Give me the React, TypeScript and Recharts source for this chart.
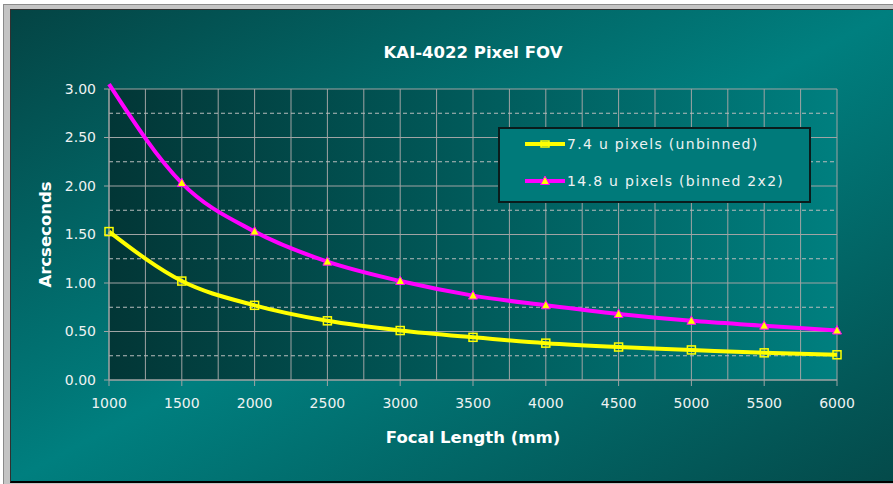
import React from 'react';
import {
  LineChart,
  Line,
  XAxis,
  YAxis,
  CartesianGrid,
  ReferenceLine,
  Legend,
  Label
} from 'recharts';

// focal lengths (mm)
const focalLengths = [1000, 1500, 2000, 2500, 3000, 3500, 4000, 4500, 5000, 5500, 6000];
// arcseconds per pixel
const unbinned = [1.53, 1.02, 0.77, 0.61, 0.51, 0.44, 0.38, 0.34, 0.31, 0.28, 0.26];
const binned = [3.05, 2.03, 1.53, 1.22, 1.02, 0.87, 0.77, 0.68, 0.61, 0.56, 0.51];

const xTicks = [1000, 1500, 2000, 2500, 3000, 3500, 4000, 4500, 5000, 5500, 6000];
const xMinor = [1250, 1750, 2250, 2750, 3250, 3750, 4250, 4750, 5250, 5750];
const yTicks = [0, 0.5, 1, 1.5, 2, 2.5, 3];
const yMinor = [0.25, 0.75, 1.25, 1.75, 2.25, 2.75];
const legendOrder = ['unbinned', 'binned'];

const data = focalLengths.map((f, i) => ({ f, unbinned: unbinned[i], binned: binned[i] }));

const FONT = '"DejaVu Sans", Verdana, sans-serif';
const GRID = '#a0a4a4';
const TEXT = '#eef2f2';

const SquareDot = (props: any) => {
  const { cx, cy } = props;
  if (cx == null || cy == null) return null;
  return <rect x={cx - 4} y={cy - 4} width={8} height={8} fill="none" stroke="#ffff00" strokeWidth={1.5} />;
};

const TriangleDot = (props: any) => {
  const { cx, cy } = props;
  if (cx == null || cy == null) return null;
  return (
    <polygon
      points={`${cx},${cy - 5} ${cx - 4.5},${cy + 3.5} ${cx + 4.5},${cy + 3.5}`}
      fill="#ffff00"
      stroke="#ff00ff"
      strokeWidth={1}
    />
  );
};

const renderLegend = ({ payload }: any) => {
  const items = [...(payload || [])].sort(
    (a: any, b: any) => legendOrder.indexOf(a.dataKey) - legendOrder.indexOf(b.dataKey)
  );
  return (
    <div
      style={{
        position: 'relative',
        width: 313,
        height: 76,
        boxSizing: 'border-box',
        border: '2px solid #0a1c1c',
        background: '#007a7a'
      }}
    >
      {items.map((entry: any, i: number) => (
        <div
          key={`leg-${i}`}
          style={{ position: 'absolute', left: 25, top: 7 + i * 37.4, height: 16, display: 'flex', alignItems: 'center' }}
        >
          <svg width={42} height={16}>
            <line x1={0} y1={8} x2={40} y2={8} stroke={entry.color} strokeWidth={4} />
            {entry.dataKey === 'unbinned' ? (
              <rect x={16} y={5} width={8} height={6} fill="none" stroke="#ffff00" strokeWidth={1.5} />
            ) : (
              <polygon points="20,3 15.5,11.5 24.5,11.5" fill="#ffff00" stroke="#ff00ff" strokeWidth={1} />
            )}
          </svg>
          <span style={{ color: TEXT, fontSize: 14, letterSpacing: 1.3, fontFamily: FONT, whiteSpace: 'nowrap' }}>
            {entry.value}
          </span>
        </div>
      ))}
    </div>
  );
};

export default function App() {
  return (
    <div style={{ position: 'absolute', left: 0, top: 0, width: 893, height: 484, background: '#ffffff', overflow: 'hidden' }}>
      <style>{`.recharts-line g, .recharts-line path { clip-path: none !important; }`}</style>
      <div
        style={{
          position: 'absolute',
          left: 3,
          top: 4,
          width: 900,
          height: 480,
          background: '#c4c4c4',
          borderTop: '1px solid #8a8a8a',
          borderLeft: '1px solid #8a8a8a'
        }}
      />
      <div
        style={{
          position: 'absolute',
          left: 10,
          top: 9,
          width: 883,
          height: 471,
          borderTop: '1px solid #303030',
          borderLeft: '1px solid #303030',
          borderBottom: '2px solid #000000',
          background: 'linear-gradient(to bottom right, #044444 0%, #007f7f 50%, #044a4a 100%)',
          fontFamily: FONT
        }}
      >
        <div
          style={{
            position: 'absolute',
            left: 98,
            top: 33,
            width: 728,
            textAlign: 'center',
            fontSize: 16.5,
            lineHeight: '20px',
            fontWeight: 'bold',
            color: '#ffffff',
            fontFamily: FONT
          }}
        >
          KAI-4022 Pixel FOV
        </div>
        <LineChart width={882} height={470} data={data} margin={{ top: 79, right: 56, bottom: 0, left: 0 }}>
          <defs>
            <linearGradient id="plotBg" x1="0" y1="0" x2="1" y2="0">
              <stop offset="0%" stopColor="#023636" />
              <stop offset="100%" stopColor="#007f7f" />
            </linearGradient>
          </defs>
          <CartesianGrid stroke={GRID} fill="url(#plotBg)" fillOpacity={1} />
          {xMinor.map(v => (
            <ReferenceLine key={`xm-${v}`} x={v} stroke={GRID} strokeWidth={1} />
          ))}
          {yMinor.map(v => (
            <ReferenceLine key={`ym-${v}`} y={v} stroke="#b8bcbc" strokeWidth={1} strokeDasharray="4 3" />
          ))}
          <XAxis
            type="number"
            dataKey="f"
            domain={[1000, 6000]}
            ticks={xTicks}
            height={100}
            stroke={GRID}
            tickSize={6}
            tickMargin={12}
            tick={{ fill: TEXT, fontSize: 14, fontFamily: FONT }}
          >
            <Label
              content={({ viewBox }: any) => (
                <text
                  x={viewBox.x + viewBox.width / 2}
                  y={viewBox.y + 63}
                  textAnchor="middle"
                  fill="#ffffff"
                  fontSize={16.5}
                  fontWeight="bold"
                  fontFamily={FONT}
                >
                  Focal Length (mm)
                </text>
              )}
            />
          </XAxis>
          <YAxis
            type="number"
            domain={[0, 3]}
            ticks={yTicks}
            allowDataOverflow
            width={98}
            stroke={GRID}
            tickSize={5}
            tickMargin={8}
            tickFormatter={(v: number) => v.toFixed(2)}
            tick={{ fill: TEXT, fontSize: 14, fontFamily: FONT }}
          >
            <Label
              content={({ viewBox }: any) => {
                const x = viewBox.x + 40;
                const y = viewBox.y + viewBox.height / 2;
                return (
                  <text
                    x={x}
                    y={y}
                    transform={`rotate(-90, ${x}, ${y})`}
                    textAnchor="middle"
                    fill="#ffffff"
                    fontSize={16.5}
                    fontWeight="bold"
                    fontFamily={FONT}
                  >
                    Arcseconds
                  </text>
                );
              }}
            />
          </YAxis>
          <Legend
            layout="horizontal"
            align="center"
            verticalAlign="middle"
            content={renderLegend}
            wrapperStyle={{ position: 'absolute', left: 487, top: 117, width: 313, height: 76 }}
          />
          <Line
            type="monotone"
            dataKey="unbinned"
            name="7.4 u pixels (unbinned)"
            stroke="#ffff00"
            strokeWidth={4}
            dot={<SquareDot />}
            activeDot={false}
            isAnimationActive={false}
          />
          <Line
            type="monotone"
            dataKey="binned"
            name="14.8 u pixels (binned 2x2)"
            stroke="#ff00ff"
            strokeWidth={4}
            dot={<TriangleDot />}
            activeDot={false}
            isAnimationActive={false}
          />
        </LineChart>
      </div>
    </div>
  );
}
